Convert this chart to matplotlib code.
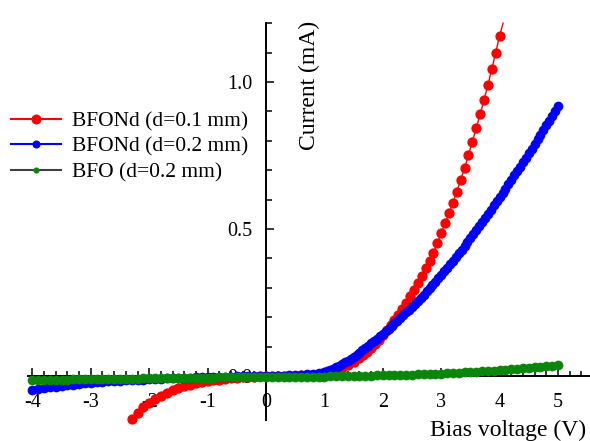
import matplotlib
matplotlib.use('Agg')
import matplotlib.pyplot as plt
from matplotlib.lines import Line2D
from matplotlib.ticker import FixedLocator

plt.rcParams['font.family'] = ['Liberation Serif', 'DejaVu Serif']

# ---------------- data ----------------
red_label = 'BFONd (d=0.1 mm)'
blue_label = 'BFONd (d=0.2 mm)'
green_label = 'BFO (d=0.2 mm)'

red_v = [-2.3, -2.2, -2.1, -2.0, -1.9, -1.8, -1.7, -1.6, -1.5, -1.4,
         -1.3, -1.2, -1.1, -1.0, -0.9, -0.8, -0.7, -0.6, -0.5, -0.4,
         -0.3, -0.2, -0.1, 0.0, 0.1, 0.2, 0.3, 0.4, 0.5, 0.6,
         0.7, 0.8, 0.9, 1.0, 1.1, 1.2, 1.3, 1.4, 1.5, 1.6,
         1.667, 1.733, 1.8, 1.867, 1.933, 2.0, 2.067, 2.133, 2.2, 2.267,
         2.333, 2.4, 2.467, 2.533, 2.6, 2.667, 2.733, 2.8, 2.867, 2.933,
         3.0, 3.067, 3.133, 3.2, 3.267, 3.333, 3.4, 3.467, 3.533, 3.6,
         3.667, 3.733, 3.8, 3.867, 3.933, 4.0]
red_i = [-0.147, -0.125, -0.107, -0.092, -0.079, -0.068, -0.058, -0.049, -0.042, -0.035,
         -0.030, -0.025, -0.021, -0.018, -0.015, -0.012, -0.010, -0.008, -0.006, -0.005,
         -0.004, -0.003, -0.001, 0.000, 0.000, 0.000, 0.001, 0.001, 0.001, 0.002,
         0.002, 0.003, 0.004, 0.006, 0.011, 0.018, 0.026, 0.036, 0.048, 0.062,
         0.072, 0.083, 0.095, 0.109, 0.124, 0.140, 0.156, 0.173, 0.190, 0.209,
         0.229, 0.250, 0.271, 0.293, 0.315, 0.340, 0.366, 0.392, 0.420, 0.452,
         0.485, 0.519, 0.553, 0.589, 0.627, 0.667, 0.707, 0.752, 0.797, 0.843,
         0.890, 0.939, 0.990, 1.044, 1.100, 1.157]
red_tail_v = [4.0, 4.06]
red_tail_i = [1.157, 1.20]

blue_v = [-4.0, -3.9, -3.8, -3.7, -3.6, -3.5, -3.4, -3.3, -3.2, -3.1,
          -3.0, -2.9, -2.8, -2.7, -2.6, -2.5, -2.4, -2.3, -2.2, -2.1,
          -2.0, -1.9, -1.8, -1.7, -1.6, -1.5, -1.4, -1.3, -1.2, -1.1,
          -1.0, -0.9, -0.8, -0.7, -0.6, -0.5, -0.4, -0.3, -0.2, -0.1,
          0.0, 0.1, 0.2, 0.3, 0.4, 0.5, 0.6, 0.7, 0.8, 0.9, 1.0,
          1.05, 1.1, 1.15, 1.2, 1.25, 1.3, 1.35, 1.4, 1.45, 1.5,
          1.55, 1.6, 1.65, 1.7, 1.75, 1.8, 1.85, 1.9, 1.95, 2.0,
          2.05, 2.1, 2.15, 2.2, 2.25, 2.3, 2.35, 2.4, 2.45, 2.5,
          2.55, 2.6, 2.65, 2.7, 2.75, 2.8, 2.85, 2.9, 2.95, 3.0,
          3.05, 3.1, 3.15, 3.2, 3.25, 3.3, 3.35, 3.4, 3.45, 3.5,
          3.55, 3.6, 3.65, 3.7, 3.75, 3.8, 3.85, 3.9, 3.95, 4.0,
          4.05, 4.1, 4.15, 4.2, 4.25, 4.3, 4.35, 4.4, 4.45, 4.5,
          4.55, 4.6, 4.65, 4.7, 4.75, 4.8, 4.85, 4.9, 4.95, 5.0]
blue_i = [-0.048, -0.045, -0.042, -0.039, -0.036, -0.034, -0.031, -0.029, -0.027, -0.025,
          -0.023, -0.021, -0.020, -0.018, -0.017, -0.016, -0.015, -0.014, -0.013, -0.012,
          -0.011, -0.010, -0.009, -0.008, -0.008, -0.007, -0.006, -0.006, -0.005, -0.004,
          -0.004, -0.003, -0.003, -0.002, -0.002, -0.001, -0.001, -0.001, 0.000, 0.000,
          0.000, 0.000, 0.001, 0.001, 0.002, 0.003, 0.004, 0.006, 0.008, 0.011, 0.015,
          0.018, 0.021, 0.025, 0.029, 0.034, 0.040, 0.046, 0.052, 0.058, 0.065,
          0.072, 0.079, 0.087, 0.095, 0.103, 0.111, 0.119, 0.127, 0.135, 0.144,
          0.152, 0.161, 0.170, 0.179, 0.188, 0.197, 0.206, 0.216, 0.226, 0.236,
          0.246, 0.256, 0.266, 0.277, 0.288, 0.299, 0.310, 0.321, 0.332, 0.344,
          0.356, 0.368, 0.380, 0.392, 0.404, 0.417, 0.430, 0.443, 0.456, 0.469,
          0.482, 0.496, 0.510, 0.524, 0.538, 0.552, 0.566, 0.580, 0.594, 0.608,
          0.622, 0.637, 0.652, 0.667, 0.682, 0.697, 0.712, 0.727, 0.742, 0.757,
          0.773, 0.789, 0.805, 0.821, 0.837, 0.853, 0.869, 0.885, 0.901, 0.918]

green_v = [-4.0, -3.9, -3.8, -3.7, -3.6, -3.5, -3.4, -3.3, -3.2, -3.1,
           -3.0, -2.9, -2.8, -2.7, -2.6, -2.5, -2.4, -2.3, -2.2, -2.1,
           -2.0, -1.9, -1.8, -1.7, -1.6, -1.5, -1.4, -1.3, -1.2, -1.1,
           -1.0, -0.9, -0.8, -0.7, -0.6, -0.5, -0.4, -0.3, -0.2, -0.1,
           0.0, 0.1, 0.2, 0.3, 0.4, 0.5, 0.6, 0.7, 0.8, 0.9,
           1.0, 1.1, 1.2, 1.3, 1.4, 1.5, 1.6, 1.7, 1.8, 1.9,
           2.0, 2.1, 2.2, 2.3, 2.4, 2.5, 2.6, 2.7, 2.8, 2.9,
           3.0, 3.1, 3.2, 3.3, 3.4, 3.5, 3.6, 3.7, 3.8, 3.9,
           4.0, 4.1, 4.2, 4.3, 4.4, 4.5, 4.6, 4.7, 4.8, 4.9, 5.0]
green_i = [-0.013, -0.013, -0.013, -0.012, -0.012, -0.012, -0.012, -0.011, -0.011, -0.011,
           -0.011, -0.011, -0.010, -0.010, -0.010, -0.010, -0.009, -0.009, -0.009, -0.008,
           -0.008, -0.008, -0.008, -0.007, -0.007, -0.007, -0.007, -0.006, -0.006, -0.006,
           -0.006, -0.006, -0.005, -0.005, -0.005, -0.005, -0.005, -0.004, -0.004, -0.004,
           -0.004, -0.004, -0.003, -0.003, -0.003, -0.003, -0.003, -0.002, -0.002, -0.002,
           -0.002, -0.001, -0.001, -0.001, 0.000, 0.000, 0.001, 0.001, 0.001, 0.002,
           0.002, 0.003, 0.003, 0.004, 0.004, 0.005, 0.006, 0.006, 0.007, 0.008,
           0.008, 0.009, 0.010, 0.011, 0.012, 0.013, 0.014, 0.016, 0.017, 0.018,
           0.020, 0.021, 0.023, 0.024, 0.026, 0.028, 0.030, 0.032, 0.034, 0.035, 0.037]

x_major = [-4, -3, -2, -1, 0, 1, 2, 3, 4, 5]
x_labels = ['-4', '-3', '-2', '-1', '0', '1', '2', '3', '4', '5']
y_major = [0.0, 0.5, 1.0]
y_labels = ['0.0', '0.5', '1.0']

# ---------------- figure ----------------
W, H = 590, 441
fig = plt.figure(figsize=(W / 100, H / 100), dpi=100)
ax = fig.add_axes([0, 0, 1, 1])
X0PX, XS = 266, 58.4
Y0PX, YS = 376, 294
ax.set_xlim(-X0PX / XS, (W - X0PX) / XS)
ax.set_ylim(-(H - Y0PX) / YS, Y0PX / YS)
ax.patch.set_visible(False)

for s in ['top', 'right']:
    ax.spines[s].set_visible(False)
for s in ['left', 'bottom']:
    ax.spines[s].set_position(('data', 0))
    ax.spines[s].set_linewidth(1.4)
ax.spines['left'].set_bounds(-0.15, 1.2)
ax.spines['bottom'].set_bounds(-4.08, 5.55)

ax.xaxis.set_major_locator(FixedLocator(x_major))
ax.set_xticklabels(x_labels)
ax.xaxis.set_minor_locator(FixedLocator([round(-4 + 0.2 * k, 1) for k in range(48)]))
ax.yaxis.set_major_locator(FixedLocator(y_major))
ax.set_yticklabels(y_labels)
ax.yaxis.set_minor_locator(FixedLocator([round(0.1 * k, 1) for k in range(1, 13)]))

ax.tick_params(axis='x', which='major', direction='in', length=5.5, width=1.1, pad=12, labelsize=14.5)
ax.tick_params(axis='x', which='minor', direction='in', length=3.8, width=1.1)
ax.tick_params(axis='y', which='major', direction='in', length=6, width=1.1, pad=9.5, labelsize=14.5)
ax.tick_params(axis='y', which='minor', direction='in', length=4.5, width=1.1)

ax.plot(red_v, red_i, color='#ff0000', lw=1.0, marker='o', ms=7.4, mec='none', zorder=3)
ax.plot(red_tail_v, red_tail_i, color='#ff0000', lw=1.0, zorder=3)
ax.plot(blue_v, blue_i, color='#0000ff', lw=1.0, marker='o', ms=7.0, mec='none', zorder=4)
ax.plot(green_v, green_i, color='#404040', lw=1.0, marker='o', ms=7.0, mfc='#0a870a', mec='none', zorder=5)

fig.text(586 / W, 1 - 430 / H, 'Bias voltage (V)', ha='right', va='center', fontsize=17)
fig.text(309 / W, 1 - 85 / H, 'Current (mA)', ha='center', va='center', rotation=90, fontsize=17)

handles = [
    Line2D([], [], color='#ff0000', lw=1.5, marker='o', ms=7.2, mec='none'),
    Line2D([], [], color='#0000ff', lw=1.5, marker='o', ms=5.8, mec='none'),
    Line2D([], [], color='#404040', lw=1.5, marker='o', ms=4.4, mfc='#0a870a', mec='none'),
]
fig.legend(handles, [red_label, blue_label, green_label], loc='upper left',
           bbox_to_anchor=(11 / W, 1 - 111 / H), frameon=False, fontsize=15.5,
           handlelength=2.32, handletextpad=0.5, labelspacing=0.26,
           borderpad=0, borderaxespad=0)

fig.savefig('out.png', dpi=100)
